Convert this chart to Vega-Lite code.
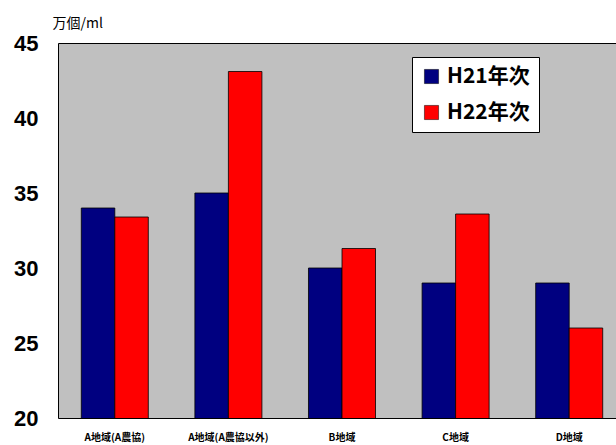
{
  "$schema": "https://vega.github.io/schema/vega-lite/v6.json",
  "width": 568,
  "height": 375,
  "autosize": {"type": "none"},
  "padding": {"left": 58, "top": 43, "right": 0, "bottom": 27},
  "background": "white",
  "config": {
    "view": {"fill": "#C0C0C0", "stroke": "black", "strokeWidth": 1},
    "font": "Liberation Sans"
  },
  "data": {
    "values": [
      {"region": "A地域(A農協)", "year": "H21年次", "value": 34.0},
      {"region": "A地域(A農協)", "year": "H22年次", "value": 33.4},
      {"region": "A地域(A農協以外)", "year": "H21年次", "value": 35.0},
      {"region": "A地域(A農協以外)", "year": "H22年次", "value": 43.1},
      {"region": "B地域", "year": "H21年次", "value": 30.0},
      {"region": "B地域", "year": "H22年次", "value": 31.3},
      {"region": "C地域", "year": "H21年次", "value": 29.0},
      {"region": "C地域", "year": "H22年次", "value": 33.6},
      {"region": "D地域", "year": "H21年次", "value": 29.0},
      {"region": "D地域", "year": "H22年次", "value": 26.0}
    ]
  },
  "mark": {"type": "bar", "stroke": "black", "strokeWidth": 0.8, "clip": true},
  "encoding": {
    "x": {
      "field": "region",
      "type": "nominal",
      "sort": null,
      "scale": {"paddingInner": 0.41, "paddingOuter": 0.205},
      "axis": {
        "title": null,
        "labelAngle": 0,
        "labelFont": "Noto Sans CJK JP",
        "labelFontWeight": "bold",
        "labelFontSize": 10,
        "labelPadding": 14,
        "labelColor": "black",
        "ticks": false,
        "domain": false
      }
    },
    "xOffset": {"field": "year", "type": "nominal", "scale": {"paddingInner": 0}},
    "y": {
      "field": "value",
      "type": "quantitative",
      "scale": {"domain": [20, 45], "zero": false, "nice": false},
      "axis": {
        "values": [20, 25, 30, 35, 40, 45],
        "grid": false,
        "ticks": false,
        "domain": false,
        "labelFont": "Liberation Sans",
        "labelFontWeight": "bold",
        "labelFontSize": 22,
        "labelPadding": 20,
        "labelColor": "black",
        "title": "万個/ml",
        "titleFont": "Noto Sans CJK JP",
        "titleFontWeight": "normal",
        "titleFontSize": 14,
        "titleAngle": 0,
        "titleAlign": "left",
        "titleBaseline": "alphabetic",
        "titleX": -6,
        "titleY": -16
      }
    },
    "color": {
      "field": "year",
      "type": "nominal",
      "scale": {"domain": ["H21年次", "H22年次"], "range": ["#000080", "#FF0000"]},
      "legend": {
        "title": null,
        "orient": "none",
        "legendX": 354,
        "legendY": 14,
        "fillColor": "white",
        "strokeColor": "black",
        "padding": 9,
        "symbolType": "square",
        "symbolSize": 200,
        "symbolStrokeColor": "black",
        "symbolStrokeWidth": 0.5,
        "labelFont": "Noto Sans CJK JP",
        "labelFontWeight": "bold",
        "labelFontSize": 21,
        "labelColor": "black",
        "rowPadding": 14,
        "labelOffset": 5
      }
    }
  }
}
